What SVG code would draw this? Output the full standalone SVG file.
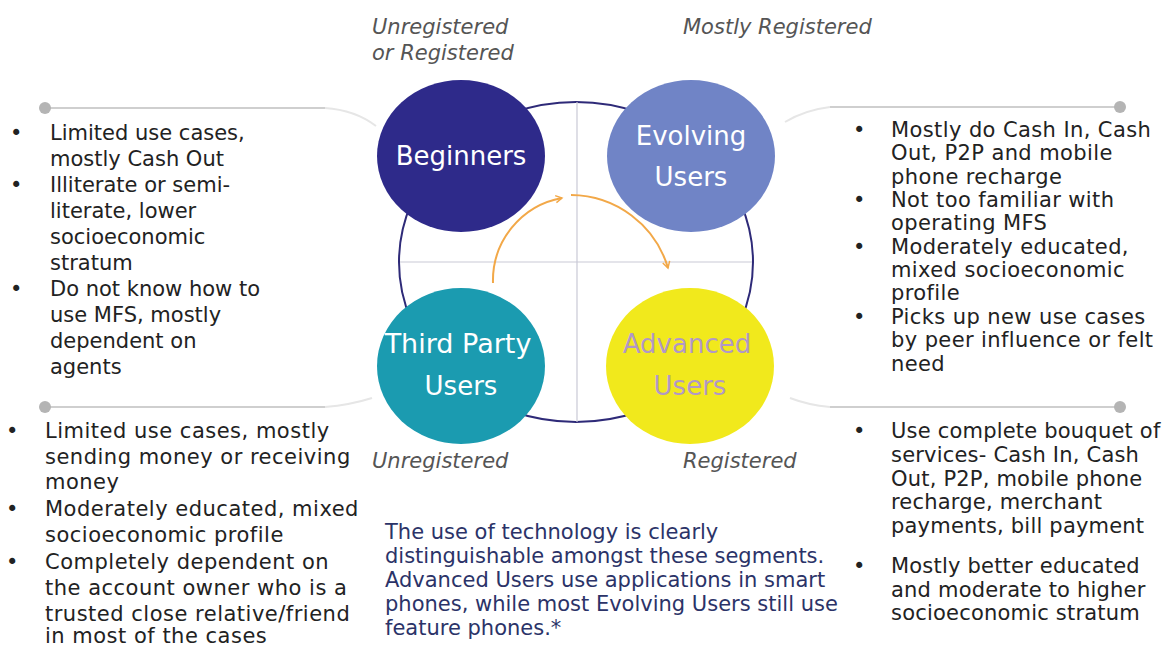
<svg xmlns="http://www.w3.org/2000/svg" width="1163" height="647" viewBox="0 0 1163 647">
<defs>
<style>
.t{font-family:"DejaVu Sans",Verdana,sans-serif;font-size:21px;fill:#222}
.c{font-family:"DejaVu Sans",Verdana,sans-serif;font-size:21px;fill:#2b3368}
.lab{font-family:"DejaVu Sans",Verdana,sans-serif;font-size:21px;font-style:italic;fill:#555}
.n{font-family:"DejaVu Sans",Verdana,sans-serif;font-size:26px;text-anchor:middle}
.g{stroke:#cfcfcf;stroke-width:2;fill:none}
.f{stroke:#e6e6e6;stroke-width:2;fill:none}
.d{fill:#b4b4b4}
.arc{stroke:#f2a848;stroke-width:2;fill:none}
</style>
<marker id="ah" viewBox="0 0 10 10" refX="8" refY="5" markerWidth="9" markerHeight="9" orient="auto" markerUnits="userSpaceOnUse">
<polyline points="1,1 8,5 1,9" fill="none" stroke="#f2a848" stroke-width="1.6"/>
</marker>
</defs>
<rect width="1163" height="647" fill="#fff"/>

<g id="frame">
<ellipse cx="576" cy="262" rx="177" ry="160" fill="none" stroke="#2e2a78" stroke-width="2"/>
<line x1="400" y1="262" x2="752" y2="262" stroke="#c9c9d6" stroke-width="1.2"/>
<line x1="577" y1="102" x2="577" y2="422" stroke="#c9c9d6" stroke-width="1.2"/>
</g>

<g id="connectors">
<path class="arc" d="M493,283 A84,84 0 0 1 562,198" marker-end="url(#ah)"/>
<path class="arc" d="M571,195 A102,102 0 0 1 668,268" marker-end="url(#ah)"/>
<path class="f" d="M325,108 Q355,110 376,126"/>
<path class="f" d="M830,107 Q805,110 785,122"/>
<path class="f" d="M325,407 Q350,405 372,398"/>
<path class="f" d="M830,407 Q808,405 790,398"/>
<line class="g" x1="45" y1="108" x2="325" y2="108"/>
<line class="g" x1="830" y1="107" x2="1120" y2="107"/>
<line class="g" x1="45" y1="407" x2="325" y2="407"/>
<line class="g" x1="830" y1="407" x2="1120" y2="407"/>
<circle class="d" cx="45" cy="108" r="6"/>
<circle class="d" cx="1120" cy="107" r="6"/>
<circle class="d" cx="45" cy="407" r="6"/>
<circle class="d" cx="1120" cy="407" r="6"/>
</g>

<g id="beginners">
<ellipse cx="461" cy="156" rx="84" ry="76" fill="#2e2a8a"/>
<text class="n" x="461" y="165" fill="#fff">Beginners</text>
</g>
<g id="evolving">
<ellipse cx="691" cy="156" rx="84" ry="76" fill="#7084c6"/>
<text class="n" x="691" y="145" fill="#fff">Evolving</text>
<text class="n" x="691" y="186" fill="#fff">Users</text>
</g>
<g id="thirdparty">
<ellipse cx="461" cy="366" rx="84" ry="78" fill="#1b9bb0"/>
<text class="n" x="458" y="353" fill="#fff" style="font-size:27px">Third Party</text>
<text class="n" x="461" y="395" fill="#fff">Users</text>
</g>
<g id="advanced">
<ellipse cx="690" cy="366" rx="84" ry="78" fill="#f1e91c"/>
<text class="n" x="687" y="353" fill="#b198c6">Advanced</text>
<text class="n" x="690" y="395" fill="#b198c6">Users</text>
</g>

<g id="labels">
<text class="lab" x="372" y="34">Unregistered</text>
<text class="lab" x="372" y="60">or Registered</text>
<text class="lab" x="683" y="34">Mostly Registered</text>
<text class="lab" x="372" y="468">Unregistered</text>
<text class="lab" x="683" y="468">Registered</text>
</g>

<g id="beginners-notes" class="t">
<text x="10" y="140">•</text><text x="50" y="140">Limited use cases,</text>
<text x="50" y="166">mostly Cash Out</text>
<text x="10" y="192">•</text><text x="50" y="192">Illiterate or semi-</text>
<text x="50" y="218">literate, lower</text>
<text x="50" y="244">socioeconomic</text>
<text x="50" y="270">stratum</text>
<text x="10" y="296">•</text><text x="50" y="296">Do not know how to</text>
<text x="50" y="322">use MFS, mostly</text>
<text x="50" y="348">dependent on</text>
<text x="50" y="374">agents</text>
</g>

<g id="evolving-notes" class="t" style="letter-spacing:0.4px">
<text x="853" y="137">•</text><text x="891" y="137">Mostly do Cash In, Cash</text>
<text x="891" y="160">Out, P2P and mobile</text>
<text x="891" y="184">phone recharge</text>
<text x="853" y="207">•</text><text x="891" y="207">Not too familiar with</text>
<text x="891" y="230">operating MFS</text>
<text x="853" y="254">•</text><text x="891" y="254">Moderately educated,</text>
<text x="891" y="277">mixed socioeconomic</text>
<text x="891" y="300">profile</text>
<text x="853" y="324">•</text><text x="891" y="324">Picks up new use cases</text>
<text x="891" y="347">by peer influence or felt</text>
<text x="891" y="371">need</text>
</g>

<g id="thirdparty-notes" class="t" style="letter-spacing:0.5px">
<text x="6" y="438">•</text><text x="45" y="438">Limited use cases, mostly</text>
<text x="45" y="464">sending money or receiving</text>
<text x="45" y="489">money</text>
<text x="6" y="516">•</text><text x="45" y="516">Moderately educated, mixed</text>
<text x="45" y="542">socioeconomic profile</text>
<text x="6" y="569">•</text><text x="45" y="569">Completely dependent on</text>
<text x="45" y="595">the account owner who is a</text>
<text x="45" y="621">trusted close relative/friend</text>
<text x="45" y="643">in most of the cases</text>
</g>

<g id="advanced-notes" class="t" style="letter-spacing:0.2px">
<text x="853" y="438">•</text><text x="891" y="438">Use complete bouquet of</text>
<text x="891" y="462">services- Cash In, Cash</text>
<text x="891" y="486">Out, P2P, mobile phone</text>
<text x="891" y="509">recharge, merchant</text>
<text x="891" y="533">payments, bill payment</text>
<text x="853" y="573">•</text><text x="891" y="573">Mostly better educated</text>
<text x="891" y="597">and moderate to higher</text>
<text x="891" y="620">socioeconomic stratum</text>
</g>

<g id="note" class="c">
<text x="385" y="539">The use of technology is clearly</text>
<text x="385" y="563">distinguishable amongst these segments.</text>
<text x="385" y="587">Advanced Users use applications in smart</text>
<text x="385" y="611">phones, while most Evolving Users still use</text>
<text x="385" y="635">feature phones.*</text>
</g>
</svg>
